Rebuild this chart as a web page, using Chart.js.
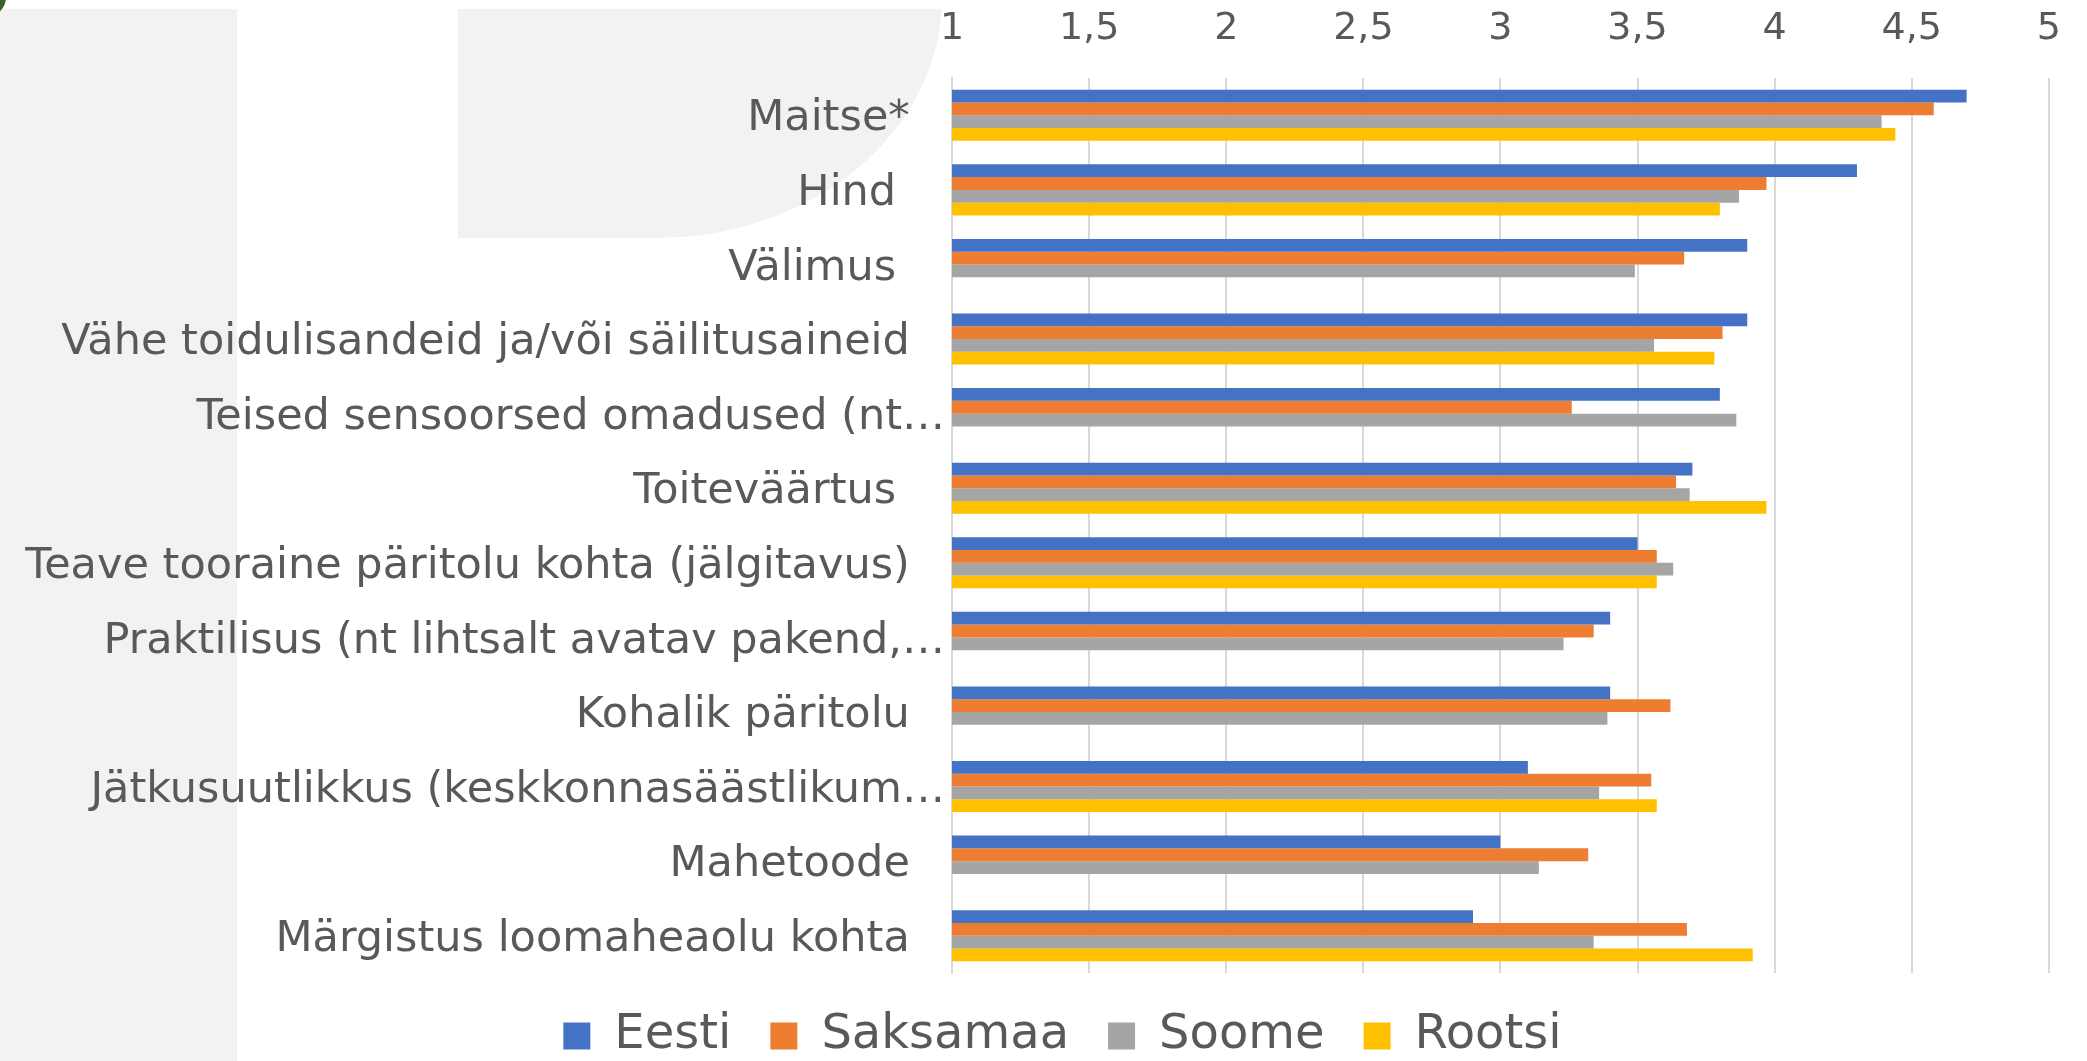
<!DOCTYPE html>
<html>
<head>
<meta charset="utf-8">
<script src="https://cdn.jsdelivr.net/npm/chart.js"></script>
<style>
    body {
        margin: 0;
        padding: 0;
        background: #ffffff;
        overflow: hidden;
    }
    /* faint logo shapes behind the chart */
    .strip {
        position: absolute;
        left: 0;
        top: 9px;
        width: 237px;
        height: 1052px;
        background: #f2f2f1;
    }
    .arcClip {
        position: absolute;
        left: 458px;
        top: 9px;
        width: 500px;
        height: 229px;
        overflow: hidden;
    }
    .arc {
        position: absolute;
        left: 0;
        top: -11px;
        width: 484px;
        height: 240px;
        background: #f2f2f1;
        border-bottom-right-radius: 286px 240px;
    }
    .dot {
        position: absolute;
        left: -34px;
        top: -23px;
        width: 40px;
        height: 40px;
        border-radius: 50%;
        background: #3d5f2c;
    }
    #wrap {
        position: relative;
        width: 2087px;
        height: 1061px;
    }
</style>
</head>
<body>
<div class="strip"></div>
<div class="arcClip"><div class="arc"></div></div>
<div class="dot"></div>
<div id="wrap">
    <canvas id="chart"></canvas>
</div>
<script>
// Categories, top to bottom
const categories = [
    'Maitse*',
    'Hind ',
    'Välimus ',
    'Vähe toidulisandeid ja/või säilitusaineid',
    'Teised sensoorsed omadused (nt…',
    'Toiteväärtus ',
    'Teave tooraine päritolu kohta (jälgitavus)',
    'Praktilisus (nt lihtsalt avatav pakend,…',
    'Kohalik päritolu',
    'Jätkusuutlikkus (keskkonnasäästlikum…',
    'Mahetoode',
    'Märgistus loomaheaolu kohta'
];

// Series values (mean scores)
const eesti    = [4.70, 4.30, 3.90, 3.90, 3.80, 3.70, 3.50, 3.40, 3.40, 3.10, 3.00, 2.90];
const saksamaa = [4.58, 3.97, 3.67, 3.81, 3.26, 3.64, 3.57, 3.34, 3.62, 3.55, 3.32, 3.68];
const soome    = [4.39, 3.87, 3.49, 3.56, 3.86, 3.69, 3.63, 3.23, 3.39, 3.36, 3.14, 3.34];
const rootsi   = [4.44, 3.80, null, 3.78, null, 3.97, 3.57, null, null, 3.57, null, 3.92];

// Value axis tick labels (1 ... 5, step 0,5)
const tickLabels = ['1', '1,5', '2', '2,5', '3', '3,5', '4', '4,5', '5'];

const textColor = '#595959';
const gridColor = '#d9d9d9';
const fontFamily = "'DejaVu Sans', Verdana, sans-serif";

// The original legend sits a little right of the canvas centre
const legendShift = {
    id: 'legendShift',
    afterLayout(chart) {
        chart.legend.left += 30;
        chart.legend.right += 30;
    }
};

const ctx = document.getElementById('chart').getContext('2d');
new Chart(ctx, {
    type: 'bar',
    data: {
        labels: categories,
        datasets: [
            { label: 'Eesti',    data: eesti,    backgroundColor: '#4472c4' },
            { label: 'Saksamaa', data: saksamaa, backgroundColor: '#ed7d31' },
            { label: 'Soome',    data: soome,    backgroundColor: '#a5a5a5' },
            { label: 'Rootsi',   data: rootsi,   backgroundColor: '#ffc000' }
        ]
    },
    options: {
        indexAxis: 'y',
        responsive: true,
        maintainAspectRatio: false,
        animation: false,
        datasets: {
            bar: {
                barPercentage: 1,
                categoryPercentage: 0.685,
                borderWidth: 0
            }
        },
        layout: {
            padding: { left: 0, right: 22, top: 0, bottom: -9 }
        },
        plugins: {
            tooltip: { enabled: false },
            legend: {
                position: 'bottom',
                labels: {
                    boxWidth: 27,
                    boxHeight: 27,
                    padding: 39,
                    color: textColor,
                    font: { family: fontFamily, size: 48 }
                }
            }
        },
        scales: {
            x: {
                position: 'top',
                min: 1,
                max: 5,
                ticks: {
                    stepSize: 0.5,
                    padding: 26,
                    maxRotation: 0,
                    color: textColor,
                    font: { family: fontFamily, size: 38 },
                    callback: (value, index) => tickLabels[index]
                },
                grid: {
                    color: gridColor,
                    lineWidth: 2,
                    drawTicks: false
                },
                border: { display: false },
                afterFit: scale => { scale.height = 78; }
            },
            y: {
                ticks: {
                    autoSkip: false,
                    padding: 7,
                    labelOffset: 4,
                    color: textColor,
                    font: { family: fontFamily, size: 43 },
                    callback: function (value) {
                        const lbl = this.getLabelForValue(value);
                        // full labels sit a bit further from the axis than cut ones
                        return lbl.endsWith('…') ? lbl : lbl + '\u2002 ';
                    }
                },
                grid: { display: false, drawTicks: false },
                border: { color: gridColor, width: 2 },
                afterFit: scale => { scale.width = 952; }
            }
        }
    },
    plugins: [legendShift]
});
</script>
</body>
</html>
